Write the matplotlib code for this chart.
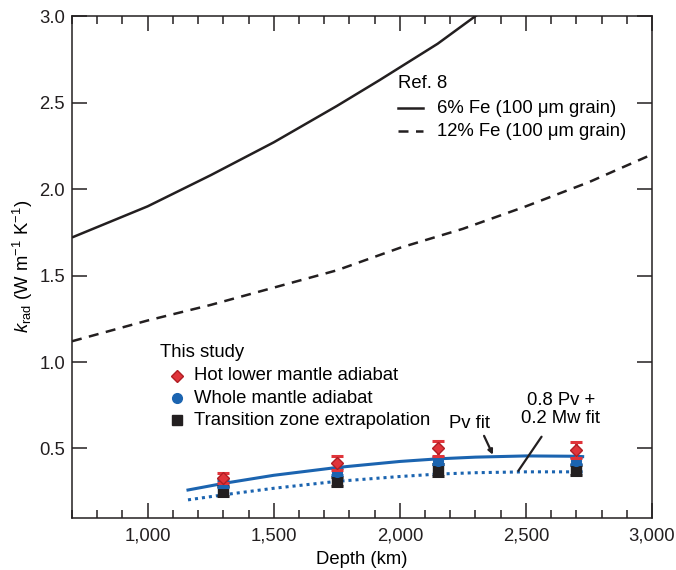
import matplotlib
matplotlib.use("Agg")
import matplotlib.pyplot as plt
from matplotlib.ticker import MultipleLocator, FixedLocator, FixedFormatter

plt.rcParams['font.family'] = ['Liberation Sans', 'DejaVu Sans']
plt.rcParams['mathtext.fontset'] = 'custom'
plt.rcParams['mathtext.rm'] = 'Liberation Sans'
plt.rcParams['mathtext.it'] = 'Liberation Sans:italic'

# Ref. 8 curves
ref6_depth = [700, 1000, 1250, 1500, 1750, 1920, 2150, 2300, 2400]
ref6_k = [1.72, 1.90, 2.08, 2.27, 2.48, 2.63, 2.84, 3.00, 3.10]
ref12_depth = [700, 1000, 1250, 1500, 1750, 2000, 2250, 2500, 2750, 3000]
ref12_k = [1.12, 1.24, 1.33, 1.43, 1.53, 1.66, 1.77, 1.90, 2.04, 2.20]

# Fits
fit_depth = [1160, 1300, 1500, 1750, 2000, 2150, 2300, 2500, 2700, 2725]
pv_fit = [0.26, 0.298, 0.345, 0.39, 0.425, 0.44, 0.45, 0.457, 0.455, 0.453]
mix_fit = [0.203, 0.232, 0.27, 0.31, 0.338, 0.352, 0.36, 0.365, 0.365, 0.365]

# This study
pt_depth = [1300, 1750, 2150, 2700]
hot_k = [0.33, 0.415, 0.50, 0.49]
hot_err = [0.028, 0.04, 0.045, 0.045]
whole_k = [0.30, 0.365, 0.43, 0.43]
whole_err = [0.02, 0.02, 0.02, 0.02]
tz_k = [0.255, 0.31, 0.375, 0.375]
tz_err = [0.03, 0.025, 0.033, 0.028]

xticks = [1000, 1500, 2000, 2500, 3000]
xticklabels = ['1,000', '1,500', '2,000', '2,500', '3,000']
yticks = [0.5, 1.0, 1.5, 2.0, 2.5, 3.0]
yticklabels = ['0.5', '1.0', '1.5', '2.0', '2.5', '3.0']

RED = '#e0343a'
BLUE = '#1b64b0'
BLACK = '#231f20'
FS = 13.3

fig = plt.figure(figsize=(6.76, 5.70), dpi=100)
ax = fig.add_axes([0.1065, 0.0918, 0.858, 0.880])

ax.plot(ref6_depth, ref6_k, color=BLACK, lw=1.8, solid_capstyle='butt')
ax.plot(ref12_depth, ref12_k, color=BLACK, lw=1.8, dashes=(4, 3))

ax.plot(fit_depth, pv_fit, color=BLUE, lw=2.2, zorder=3)
ax.plot(fit_depth, mix_fit, color=BLUE, lw=2.2, dashes=(1, 1.3), zorder=3)

ax.errorbar(pt_depth, tz_k, yerr=tz_err, fmt='s', color=BLACK, ms=7,
            elinewidth=2.2, capsize=4, capthick=2.2, zorder=4)
ax.errorbar(pt_depth, whole_k, yerr=whole_err, fmt='o', color=BLUE, ms=7,
            elinewidth=2.2, capsize=4, capthick=2.2, zorder=5)
ax.errorbar(pt_depth, hot_k, yerr=hot_err, fmt='D', color=RED, ms=6.5,
            mec='#b01e24', elinewidth=2.2, capsize=4, capthick=2.2, zorder=6)

ax.set_xlim(700, 3000)
ax.set_ylim(0.1, 3.0)
ax.xaxis.set_major_locator(FixedLocator(xticks))
ax.xaxis.set_major_formatter(FixedFormatter(xticklabels))
ax.xaxis.set_minor_locator(MultipleLocator(100))
ax.yaxis.set_major_locator(FixedLocator(yticks))
ax.yaxis.set_major_formatter(FixedFormatter(yticklabels))

ax.tick_params(axis='both', which='both', direction='in', top=True, right=True,
               labelsize=FS, colors=BLACK, width=1.1)
ax.tick_params(axis='both', which='major', length=10.5)
ax.tick_params(axis='x', which='minor', length=5.5)
ax.tick_params(axis='y', pad=5)
ax.tick_params(axis='x', pad=7)
for s in ax.spines.values():
    s.set_linewidth(1.1)
    s.set_color(BLACK)

ax.set_xlabel('Depth (km)', fontsize=FS, labelpad=5)
ax.set_ylabel(r'$\it{k}_{\rm rad}$ (W m$^{-1}$ K$^{-1}$)', fontsize=FS, labelpad=3)

# Ref legend
ax.text(1993, 2.61, 'Ref. 8', fontsize=FS, va='center', ha='left')
ax.plot([1993, 2092], [2.468, 2.468], color=BLACK, lw=1.8)
ax.text(2147, 2.468, '6% Fe (100 μm grain)', fontsize=FS, va='center', ha='left')
ax.plot([1993, 2092], [2.335, 2.335], color=BLACK, lw=1.8, dashes=(4, 3))
ax.text(2147, 2.335, '12% Fe (100 μm grain)', fontsize=FS, va='center', ha='left')

# This study legend
ax.text(1049, 1.056, 'This study', fontsize=FS, va='center', ha='left')
ax.plot([1115], [0.92], 'D', color=RED, mec='#b01e24', ms=6.5)
ax.text(1185, 0.92, 'Hot lower mantle adiabat', fontsize=FS, va='center', ha='left')
ax.plot([1115], [0.79], 'o', color=BLUE, ms=7)
ax.text(1185, 0.79, 'Whole mantle adiabat', fontsize=FS, va='center', ha='left')
ax.plot([1115], [0.664], 's', color=BLACK, ms=7)
ax.text(1185, 0.664, 'Transition zone extrapolation', fontsize=FS, va='center', ha='left')

# Annotations
ax.text(2278, 0.643, 'Pv fit', fontsize=FS, ha='center', va='center')
ax.annotate('', xy=(2369, 0.464), xytext=(2334, 0.573),
            arrowprops=dict(arrowstyle='-|>', color=BLACK, lw=1.6,
                            mutation_scale=7, shrinkA=0, shrinkB=0))
ax.text(2638, 0.724, '0.8 Pv +\n0.2 Mw fit', fontsize=FS, ha='center',
        va='center', linespacing=1.1)
ax.annotate('', xy=(2470, 0.371), xytext=(2562, 0.568),
            arrowprops=dict(arrowstyle='-', color=BLACK, lw=1.6,
                            shrinkA=0, shrinkB=0))

fig.savefig('out.png', dpi=100)
